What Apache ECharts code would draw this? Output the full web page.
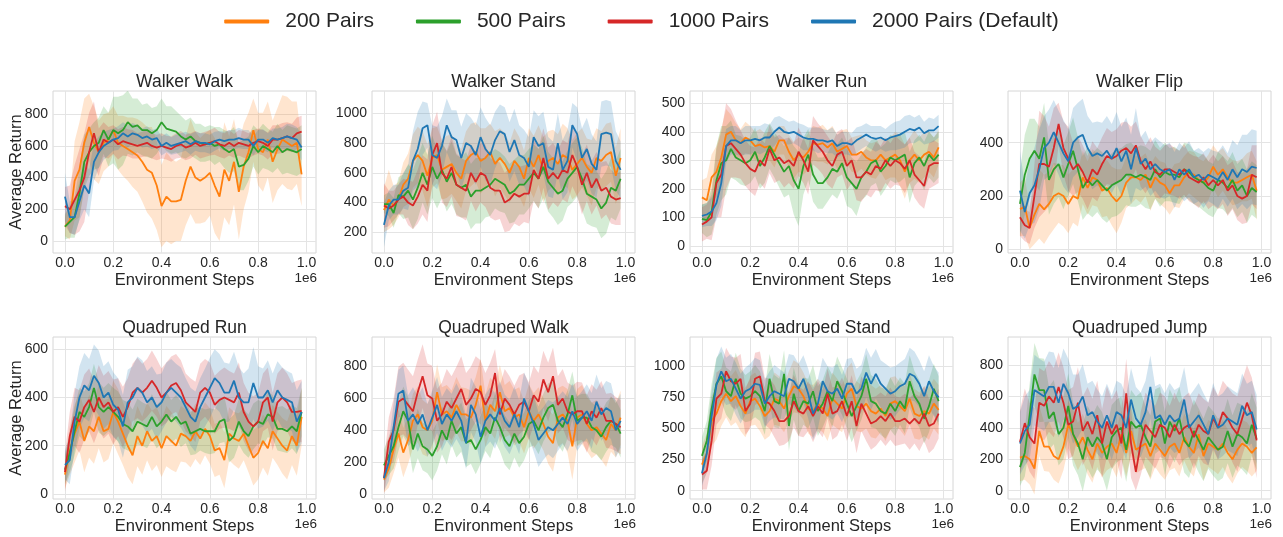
<!DOCTYPE html>
<html>
<head>
<meta charset="utf-8">
<script src="https://cdn.jsdelivr.net/npm/echarts@6/dist/echarts.min.js"></script>
<style>
  html, body { margin: 0; padding: 0; background: #ffffff; }
  #chart { width: 1283px; height: 537px; }
</style>
</head>
<body>
<div id="chart"></div>
<script>
// ---- Data: mean return and spread (std) every 20k environment steps ----
const seriesNames = ['200 Pairs', '500 Pairs', '1000 Pairs', '2000 Pairs (Default)'];
const panelTitles = ['Walker Walk', 'Walker Stand', 'Walker Run', 'Walker Flip',
                     'Quadruped Run', 'Quadruped Walk', 'Quadruped Stand', 'Quadruped Jump'];
const steps = Array.from({ length: 50 }, (_, i) => i * 20000);
const xTickValues = [0, 200000, 400000, 600000, 800000, 1000000];

// Walker Walk
const walkerWalkTicks = [0, 200, 400, 600, 800];
const walkerWalk200 = [90,130,380,450,620,720,620,560,620,640, 700,620,600,580,560,540,500,450,430,350, 220,280,250,250,260,380,470,400,380,400, 430,350,280,450,380,500,310,470,560,700, 580,560,640,500,580,640,620,600,620,420];
const walkerWalk200Std = [60,120,250,300,280,210,230,200,180,170, 150,170,190,200,220,230,250,270,290,280, 260,280,270,250,260,280,300,290,270,280, 270,300,280,300,280,270,300,270,250,200, 230,250,240,260,260,280,290,280,260,200];
const walkerWalk500 = [90,120,150,300,500,560,600,620,700,640, 700,680,700,750,720,730,700,700,680,700, 750,710,700,690,660,640,660,630,620,610, 620,600,610,580,560,580,470,480,520,600, 560,600,580,560,600,560,580,570,560,580];
const walkerWalk500Std = [80,100,130,160,170,150,150,160,150,170, 210,230,220,200,180,170,160,170,160,150, 150,140,150,130,130,120,120,110,120,110, 110,120,110,120,130,140,150,160,140,130, 140,140,130,130,140,140,150,150,150,150];
const walkerWalk1000 = [220,200,260,320,400,560,680,560,640,620, 640,610,630,620,610,600,610,620,600,590, 600,590,580,600,610,590,600,620,600,610, 620,630,610,600,620,600,620,610,600,620, 630,620,600,640,640,650,660,650,680,690];
const walkerWalk1000Std = [120,150,220,260,280,250,200,150,110,100, 90,95,90,85,90,80,80,85,80,80, 80,75,80,80,85,80,80,75,80,80, 80,85,80,80,80,75,80,85,80,80, 80,80,85,90,90,95,90,90,100,100];
const walkerWalk2000 = [280,150,150,250,350,300,500,560,600,620, 640,650,680,660,680,670,650,660,640,650, 600,620,600,610,620,630,610,630,620,620, 610,630,640,630,640,640,650,640,640,600, 640,640,620,650,640,650,660,650,640,590];
const walkerWalk2000Std = [150,100,110,120,150,150,120,100,90,80, 70,75,70,70,65,60,60,65,60,60, 60,60,55,60,60,60,65,60,60,60, 60,60,55,60,60,60,65,60,60,60, 60,65,60,60,70,70,80,85,80,80];

// Walker Stand
const walkerStandTicks = [200, 400, 600, 800, 1000];
const walkerStand200 = [350,420,380,420,520,560,680,720,680,580, 700,720,620,640,660,600,560,680,720,740, 680,700,740,660,700,660,600,680,640,560, 700,640,720,620,680,700,660,720,700,620, 660,700,640,600,700,680,720,740,580,700];
const walkerStand200Std = [150,200,130,120,150,170,180,190,200,210, 200,190,200,210,200,190,200,200,210,200, 220,200,190,220,200,210,200,220,200,190, 200,210,200,220,200,190,200,210,200,200, 210,200,190,220,200,200,210,200,190,200];
const walkerStand500 = [390,390,330,450,440,480,420,500,600,520, 640,560,620,540,600,520,500,520,440,480, 480,500,520,560,540,520,460,480,520,520, 560,600,560,640,540,500,460,480,560,600, 640,560,460,440,420,360,400,500,480,560];
const walkerStand500Std = [60,80,100,120,150,180,200,210,200,200, 210,200,190,200,210,200,200,220,220,220, 220,200,210,200,200,190,200,210,200,200, 200,190,200,210,200,200,210,200,190,200, 200,210,200,200,190,200,210,200,200,200];
const walkerStand1000 = [380,360,380,420,440,400,380,440,520,480, 720,800,600,560,640,520,500,480,600,540, 600,580,500,480,480,400,420,460,440,460, 460,620,560,700,560,600,560,620,600,720, 640,520,600,500,560,480,500,440,420,430];
const walkerStand1000Std = [150,120,100,100,120,150,160,180,200,210, 200,210,200,190,200,210,200,200,190,200, 200,210,200,200,190,200,210,200,200,190, 200,210,200,200,210,200,190,200,200,210, 200,200,190,180,180,190,180,180,170,180];
const walkerStand2000 = [250,380,420,420,480,500,680,760,900,920, 720,700,780,920,840,820,700,800,780,720, 840,760,720,820,880,860,740,820,720,700, 640,840,780,800,640,620,800,620,680,920, 860,700,760,660,620,860,870,860,680,620];
const walkerStand2000Std = [150,100,100,100,120,150,200,250,180,150, 200,210,200,180,180,200,210,200,190,200, 200,210,200,190,180,180,200,210,200,190, 200,180,200,210,200,190,200,200,210,150, 180,200,210,200,190,220,220,220,200,190];

// Walker Run
const walkerRunTicks = [0, 100, 200, 300, 400, 500];
const walkerRun200 = [170,160,240,260,310,390,400,370,360,380, 370,350,355,345,350,330,370,370,330,300, 320,310,330,360,355,360,345,360,330,340, 350,320,320,330,310,300,300,320,300,310, 320,300,260,300,320,300,320,330,310,345];
const walkerRun200Std = [60,80,80,90,100,90,60,60,50,55, 50,50,55,50,50,55,50,50,60,65, 60,60,65,60,60,65,60,60,60,65, 60,60,65,60,60,60,65,60,70,70, 80,90,95,80,85,80,80,70,70,60];
const walkerRun500 = [95,90,120,230,290,300,340,310,300,290, 300,330,280,310,350,320,290,260,280,230, 200,280,320,250,220,220,240,270,260,290, 240,220,200,240,260,290,300,260,280,310, 300,310,320,240,290,310,280,320,300,320];
const walkerRun500Std = [50,60,80,120,130,120,100,80,85,80, 80,85,80,90,80,80,85,90,100,120, 130,100,90,95,90,90,85,90,95,90, 100,90,95,80,85,80,80,85,80,80, 80,85,80,90,80,80,85,80,80,80];
const walkerRun1000 = [75,85,100,220,250,350,360,340,320,290, 270,260,300,280,340,300,310,290,300,280, 330,300,260,370,350,330,300,280,320,330, 280,300,240,240,260,250,280,270,300,280, 300,290,270,300,250,230,210,280,290,290];
const walkerRun1000Std = [60,60,80,120,150,150,120,100,85,80, 80,85,80,80,85,80,80,85,80,80, 85,80,80,85,80,80,85,80,80,80, 85,80,80,85,80,80,85,80,80,80, 85,80,85,80,80,85,80,80,80,70];
const walkerRun2000 = [105,110,120,150,220,350,370,370,360,370, 370,375,370,380,380,400,415,400,395,400, 390,380,375,375,370,370,365,370,350,360, 360,355,370,380,390,380,375,380,370,380, 385,390,400,410,405,415,395,405,405,420];
const walkerRun2000Std = [40,40,50,60,80,60,50,50,45,50, 50,45,50,50,45,50,40,45,40,40, 40,45,40,40,45,40,40,45,40,40, 40,40,45,40,40,40,45,40,40,45, 50,50,55,50,45,45,40,45,40,40];

// Walker Flip
const walkerFlipTicks = [0, 200, 400];
const walkerFlip200 = [150,160,80,130,170,150,170,200,210,200, 170,200,190,270,230,270,260,220,230,200, 180,200,250,270,270,260,280,230,270,250, 240,210,240,240,270,290,280,260,250,270, 310,280,300,270,250,250,260,270,280,220];
const walkerFlip200Std = [100,110,80,110,130,130,120,125,110,115, 110,100,105,100,100,105,100,100,105,110, 120,100,95,100,80,85,80,85,80,80, 85,80,80,85,80,80,85,80,80,85, 80,85,80,80,85,80,80,90,90,110];
const walkerFlip500 = [170,280,340,370,340,420,260,300,320,270, 320,370,300,230,260,240,260,240,220,240, 250,260,280,280,270,280,270,260,300,270, 290,280,280,270,300,290,270,260,250,230, 220,260,250,230,260,220,240,200,230,215];
const walkerFlip500Std = [120,150,150,120,120,130,130,130,125,120, 120,125,120,120,125,120,120,125,120,120, 125,120,115,120,110,110,115,110,110,110, 110,100,105,100,100,105,100,100,105,100, 100,105,100,100,105,100,100,100,100,100];
const walkerFlip1000 = [120,90,80,200,320,320,310,380,470,380, 340,300,320,290,250,300,280,320,350,340, 350,370,380,360,390,330,300,330,290,280, 300,300,290,280,300,270,260,250,270,240, 260,240,260,220,240,200,190,200,280,270];
const walkerFlip1000Std = [70,60,60,120,200,180,150,150,80,100, 120,100,105,100,100,105,100,100,105,100, 100,105,100,100,90,95,90,90,95,90, 90,95,90,90,95,90,90,95,90,90, 95,90,90,95,90,90,95,100,110,120];
const walkerFlip2000 = [220,140,210,240,300,380,400,440,400,360, 330,400,420,430,380,350,360,350,370,340, 380,330,370,300,380,320,340,300,320,300, 290,300,260,300,280,300,270,280,260,280, 270,260,290,260,300,270,300,290,310,305];
const walkerFlip2000Std = [150,100,120,140,150,120,125,120,120,125, 120,130,130,135,120,125,120,125,130,130, 135,130,125,130,150,100,105,100,100,105, 100,100,105,100,100,105,100,100,105,100, 100,105,100,100,110,120,130,140,140,140];

// Quadruped Run
const quadrupedRunTicks = [0, 200, 400, 600];
const quadrupedRun200 = [80,180,250,300,220,280,260,320,260,270, 340,300,250,200,160,240,200,260,220,240, 190,240,220,200,250,240,220,260,230,270, 240,180,190,140,250,230,220,250,200,150, 170,220,190,260,230,200,180,240,200,320];
const quadrupedRun200Std = [60,100,120,120,130,130,135,130,130,125, 130,135,130,130,120,125,120,120,125,120, 120,125,120,110,115,110,110,115,110,110, 115,110,110,115,110,110,115,110,110,115, 110,110,115,110,110,115,120,120,125,120];
const quadrupedRun500 = [100,170,260,340,320,360,440,360,340,360, 340,320,290,280,260,300,290,280,320,280, 300,330,300,320,290,300,250,260,270,260, 260,260,300,310,220,240,300,260,240,280, 300,290,330,320,270,270,260,280,260,340];
const quadrupedRun500Std = [60,80,100,100,105,100,100,105,100,100, 100,105,100,100,90,95,90,90,95,90, 90,95,90,90,95,90,90,95,90,90, 95,90,90,95,90,90,95,90,90,95, 90,90,95,90,90,95,90,90,95,100];
const quadrupedRun1000 = [90,240,320,300,360,390,340,400,360,380, 340,360,320,360,420,440,420,440,470,440, 400,420,450,460,430,380,360,340,420,440, 420,370,390,400,390,380,420,340,300,280, 300,380,400,300,380,400,380,340,340,345];
const quadrupedRun1000Std = [80,100,120,130,135,130,130,135,130,130, 135,120,125,120,120,125,120,120,125,120, 120,125,120,120,125,120,120,125,120,120, 125,120,120,125,120,120,125,120,120,125, 120,120,125,120,120,125,120,120,130,130];
const quadrupedRun2000 = [120,140,300,400,450,430,490,460,400,420, 370,350,280,380,400,440,420,380,400,360, 380,420,440,420,400,360,320,300,360,400, 440,480,460,420,420,470,400,380,380,460, 400,400,430,380,430,400,390,380,300,340];
const quadrupedRun2000Std = [60,100,120,130,135,130,130,135,130,130, 135,130,130,135,130,130,135,130,130,135, 120,125,120,120,125,120,120,125,120,120, 125,120,120,125,120,120,125,120,140,150, 130,120,125,120,120,125,120,120,130,130];

// Quadruped Walk
const quadrupedWalkTicks = [0, 200, 400, 600, 800];
const quadrupedWalk200 = [90,160,280,380,260,340,460,500,420,400, 460,640,500,520,480,560,500,500,480,560, 680,460,560,520,640,520,540,480,500,420, 520,460,500,440,360,320,480,500,460,300, 480,500,440,400,420,380,340,440,400,480];
const quadrupedWalk200Std = [80,120,150,150,155,150,170,175,170,165, 170,175,170,165,170,175,170,165,170,175, 170,165,170,175,170,165,170,175,170,165, 170,175,170,165,170,180,185,180,200,210, 180,185,170,175,170,165,170,175,170,170];
const quadrupedWalk500 = [180,240,300,420,520,460,280,380,300,280, 240,300,400,340,460,380,420,320,340,280, 340,420,380,480,420,340,300,380,320,360, 440,460,400,480,540,560,460,420,500,620, 460,480,480,420,400,360,420,460,440,380];
const quadrupedWalk500Std = [100,120,140,150,155,150,150,155,150,150, 155,150,150,155,150,150,155,150,150,155, 150,150,155,150,150,155,150,150,155,150, 150,155,150,150,155,150,150,155,150,150, 155,150,150,155,150,150,155,150,150,150];
const quadrupedWalk1000 = [100,330,400,580,600,560,520,640,740,620, 600,460,500,580,540,600,660,560,600,660, 640,560,620,760,500,600,560,500,560,580, 520,620,580,720,640,740,560,600,520,500, 520,520,440,520,480,540,460,460,440,420];
const quadrupedWalk1000Std = [100,150,200,220,225,220,220,205,200,200, 205,200,200,205,200,200,205,200,200,205, 200,200,205,150,180,185,180,180,185,180, 180,185,180,180,185,180,180,185,180,180, 185,180,180,170,175,170,170,175,170,170];
const quadrupedWalk2000 = [100,200,420,630,650,460,500,440,500,400, 480,560,440,500,460,520,460,320,560,500, 360,460,500,460,540,460,420,500,420,600, 520,440,340,380,420,400,440,480,440,520, 440,480,520,460,580,500,540,520,400,460];
const quadrupedWalk2000Std = [80,120,150,150,155,160,170,175,170,165, 170,175,170,165,170,175,170,165,170,175, 170,165,170,175,170,165,170,175,170,165, 170,175,170,165,170,175,170,165,170,175, 170,165,170,175,170,165,170,175,170,170];

// Quadruped Stand
const quadrupedStandTicks = [0, 250, 500, 750, 1000];
const quadrupedStand200 = [210,300,560,620,720,780,720,760,680,620, 720,740,680,600,640,740,720,660,760,840, 820,760,660,640,700,660,600,740,700,660, 780,820,680,660,700,640,620,660,600,700, 720,680,640,740,620,600,640,620,700,650];
const quadrupedStand200Std = [150,160,200,210,200,190,200,210,200,190, 200,210,200,190,200,210,200,190,200,210, 200,190,200,210,200,190,200,210,200,190, 200,210,200,190,200,210,200,190,200,210, 200,190,200,210,200,190,200,210,200,200];
const quadrupedStand500 = [280,400,660,860,920,800,760,900,780,740, 760,800,760,640,900,720,700,940,520,780, 640,720,700,800,640,700,800,720,880,800, 700,600,680,760,900,720,700,640,620,700, 640,720,660,880,760,700,580,680,820,720];
const quadrupedStand500Std = [150,160,200,210,200,190,200,210,200,190, 200,210,200,190,200,210,200,190,200,210, 200,190,200,210,200,190,200,210,200,190, 200,210,200,190,200,210,200,190,200,210, 200,190,200,210,200,190,200,210,200,200];
const quadrupedStand1000 = [130,160,400,740,780,960,880,860,900,640, 700,900,920,720,700,640,560,560,600,720, 640,620,680,600,680,620,780,620,640,720, 600,720,520,700,620,540,560,600,560,620, 560,560,580,540,580,540,620,520,540,620];
const quadrupedStand1000Std = [120,150,200,210,200,190,200,210,200,190, 200,210,200,190,200,210,200,190,200,210, 200,190,200,210,200,190,200,210,200,190, 200,210,220,220,220,210,200,190,200,210, 200,190,200,210,200,220,220,220,200,200];
const quadrupedStand2000 = [140,300,600,850,960,880,900,820,740,800, 820,860,850,700,760,800,780,760,900,880, 820,900,780,620,700,880,800,780,820,740, 860,860,780,820,950,860,940,860,820,780, 800,840,860,940,920,860,760,880,800,750];
const quadrupedStand2000Std = [100,150,200,210,200,190,200,210,200,190, 200,210,200,190,200,210,200,190,200,210, 200,190,200,210,200,190,200,210,200,190, 200,210,200,190,200,210,200,190,200,210, 200,190,200,210,200,190,200,210,200,200];

// Quadruped Jump
const quadrupedJumpTicks = [0, 200, 400, 600, 800];
const quadrupedJump200 = [210,220,200,140,380,280,280,220,200,280, 420,360,280,340,260,200,300,240,280,300, 240,360,240,380,260,280,300,220,300,260, 220,280,300,240,340,280,240,360,220,300, 280,260,300,240,200,260,300,280,240,275];
const quadrupedJump200Std = [150,150,160,165,160,155,160,150,155,150, 150,155,150,150,155,150,150,155,150,150, 155,150,150,155,150,150,155,150,150,155, 150,150,155,150,150,155,150,150,155,150, 150,155,150,150,155,150,150,155,150,150];
const quadrupedJump500 = [150,240,480,740,640,640,460,500,360,400, 540,360,300,200,340,280,340,300,200,340, 380,400,260,440,400,420,340,280,440,460, 300,440,380,460,320,280,380,320,260,340, 300,260,280,380,280,360,340,300,420,330];
const quadrupedJump500Std = [120,150,200,200,205,200,200,205,200,200, 205,200,200,205,200,200,205,200,200,205, 200,200,205,200,200,205,200,200,205,200, 200,205,200,200,205,200,200,205,200,200, 205,200,200,205,200,200,205,200,200,200];
const quadrupedJump1000 = [310,430,340,300,560,540,600,560,660,560, 420,440,560,380,440,360,480,300,440,360, 420,300,620,300,120,300,420,380,340,420, 400,340,420,360,400,420,340,420,380,360, 460,400,500,460,400,360,460,560,480,320];
const quadrupedJump1000Std = [200,220,220,225,220,220,225,220,220,225, 220,220,225,220,220,225,220,220,225,220, 220,225,220,220,120,200,205,200,200,205, 200,200,205,200,200,205,200,200,205,200, 200,205,200,200,220,240,240,240,240,240];
const quadrupedJump2000 = [300,380,420,640,620,600,660,660,560,680, 620,520,540,600,480,500,440,400,480,400, 500,480,400,580,460,420,500,660,460,480, 420,480,440,460,580,400,440,480,420,360, 480,400,420,460,440,420,540,480,500,390];
const quadrupedJump2000Std = [200,220,220,225,220,220,225,220,220,225, 220,220,200,205,200,200,205,200,200,205, 200,200,205,200,200,205,200,200,205,200, 200,205,200,200,205,200,200,205,200,200, 205,200,200,205,200,200,205,200,200,220];

// ---- Panels assembled from the arrays above ----
const panels = [
  { ticks: walkerWalkTicks, range: [-76, 947], runs: [[walkerWalk200, walkerWalk200Std], [walkerWalk500, walkerWalk500Std], [walkerWalk1000, walkerWalk1000Std], [walkerWalk2000, walkerWalk2000Std]] },
  { ticks: walkerStandTicks, range: [61, 1150], runs: [[walkerStand200, walkerStand200Std], [walkerStand500, walkerStand500Std], [walkerStand1000, walkerStand1000Std], [walkerStand2000, walkerStand2000Std]] },
  { ticks: walkerRunTicks, range: [-25, 543], runs: [[walkerRun200, walkerRun200Std], [walkerRun500, walkerRun500Std], [walkerRun1000, walkerRun1000Std], [walkerRun2000, walkerRun2000Std]] },
  { ticks: walkerFlipTicks, range: [-14, 594], runs: [[walkerFlip200, walkerFlip200Std], [walkerFlip500, walkerFlip500Std], [walkerFlip1000, walkerFlip1000Std], [walkerFlip2000, walkerFlip2000Std]] },
  { ticks: quadrupedRunTicks, range: [-21, 651], runs: [[quadrupedRun200, quadrupedRun200Std], [quadrupedRun500, quadrupedRun500Std], [quadrupedRun1000, quadrupedRun1000Std], [quadrupedRun2000, quadrupedRun2000Std]] },
  { ticks: quadrupedWalkTicks, range: [-31, 986], runs: [[quadrupedWalk200, quadrupedWalk200Std], [quadrupedWalk500, quadrupedWalk500Std], [quadrupedWalk1000, quadrupedWalk1000Std], [quadrupedWalk2000, quadrupedWalk2000Std]] },
  { ticks: quadrupedStandTicks, range: [-67, 1236], runs: [[quadrupedStand200, quadrupedStand200Std], [quadrupedStand500, quadrupedStand500Std], [quadrupedStand1000, quadrupedStand1000Std], [quadrupedStand2000, quadrupedStand2000Std]] },
  { ticks: quadrupedJumpTicks, range: [-53, 978], runs: [[quadrupedJump200, quadrupedJump200Std], [quadrupedJump500, quadrupedJump500Std], [quadrupedJump1000, quadrupedJump1000Std], [quadrupedJump2000, quadrupedJump2000Std]] }
];

// ---- Styling / layout ----
const colors = ['#ff7f0e', '#2ca02c', '#d62728', '#1f77b4'];
const FONT = '"Liberation Sans", Arial, Helvetica, sans-serif';
const TEXT = '#262626';
const colLeft = [53, 372, 690, 1008];
const rowTop = [91, 337];
const PW = 263, PH = 162;
const X_MIN = -49500, X_MAX = 1039500;

const grids = [], xAxes = [], yAxes = [], series = [], graphics = [];

panels.forEach((p, gi) => {
  const col = gi % 4, row = Math.floor(gi / 4);
  const left = colLeft[col], top = rowTop[row];
  grids.push({
    left: left, top: top, width: PW, height: PH,
    show: true, borderColor: '#d6d6d6', borderWidth: 1, backgroundColor: '#ffffff'
  });
  xAxes.push({
    gridIndex: gi, type: 'value', min: X_MIN, max: X_MAX,
    axisLine: { show: false },
    axisTick: { show: false, customValues: xTickValues },
    axisLabel: { customValues: xTickValues, formatter: v => (v / 1e6).toFixed(1),
                 fontSize: 14, color: TEXT, fontFamily: FONT, margin: 3 },
    splitLine: { show: true, lineStyle: { color: '#e4e4e4', width: 1 } },
    name: 'Environment Steps', nameLocation: 'middle', nameGap: 19, nameMoveOverlap: false,
    nameTextStyle: { fontSize: 16.5, color: TEXT, fontFamily: FONT }
  });
  yAxes.push({
    gridIndex: gi, type: 'value', min: p.range[0], max: p.range[1],
    axisLine: { show: false },
    axisTick: { show: false, customValues: p.ticks },
    axisLabel: { customValues: p.ticks, formatter: v => String(v),
                 fontSize: 14, color: TEXT, fontFamily: FONT, margin: 5 },
    splitLine: { show: true, lineStyle: { color: '#e4e4e4', width: 1 } },
    name: col === 0 ? 'Average Return' : '', nameLocation: 'middle', nameGap: 28, nameMoveOverlap: false,
    nameTextStyle: { fontSize: 16.5, color: TEXT, fontFamily: FONT }
  });

  p.runs.forEach(([mean, spread], k) => {
    // shaded band: mean ± spread
    series.push({
      type: 'custom', xAxisIndex: gi, yAxisIndex: gi, silent: true, animation: false,
      data: steps.map((x, i) => [x, mean[i] - spread[i], mean[i] + spread[i]]),
      encode: { x: 0, y: [1, 2] },
      renderItem: (params, api) => {
        if (params.dataIndex !== 0) return null;
        const upper = steps.map((x, i) => api.coord([x, mean[i] + spread[i]]));
        const lower = steps.map((x, i) => api.coord([x, mean[i] - spread[i]])).reverse();
        const cs = params.coordSys;
        return {
          type: 'polygon',
          shape: { points: upper.concat(lower) },
          style: { fill: colors[k], opacity: 0.2 },
          clipPath: { type: 'rect', shape: { x: cs.x, y: cs.y, width: cs.width, height: cs.height } }
        };
      }
    });
    // mean curve
    series.push({
      type: 'line', name: seriesNames[k], xAxisIndex: gi, yAxisIndex: gi,
      data: steps.map((x, i) => [x, mean[i]]),
      showSymbol: false, symbol: 'none', silent: true, animation: false,
      lineStyle: { width: 1.8, color: colors[k] }, itemStyle: { color: colors[k] }
    });
  });

  // panel title
  graphics.push({
    type: 'text', x: left + PW / 2, y: top - 8.5,
    style: { text: panelTitles[gi], fontSize: 17.5, fontFamily: FONT, fill: TEXT,
             align: 'center', verticalAlign: 'middle', textAlign: 'center', textVerticalAlign: 'middle' }
  });
  // x-axis offset (scientific multiplier)
  graphics.push({
    type: 'text', x: left + PW + 1, y: top + PH + 25,
    style: { text: '1e6', fontSize: 13.5, fontFamily: FONT, fill: TEXT,
             align: 'right', verticalAlign: 'middle', textAlign: 'right', textVerticalAlign: 'middle' }
  });
});

const chart = echarts.init(document.getElementById('chart'), null, { renderer: 'canvas' });
chart.setOption({
  animation: false,
  backgroundColor: '#ffffff',
  textStyle: { fontFamily: FONT },
  color: colors,
  legend: {
    data: seriesNames, top: 6, left: 'center',
    icon: 'roundRect', itemWidth: 45, itemHeight: 4, itemGap: 42,
    textStyle: { fontSize: 21, color: TEXT, fontFamily: FONT, padding: [0, 0, 0, 11] }
  },
  grid: grids,
  xAxis: xAxes,
  yAxis: yAxes,
  series: series,
  graphic: graphics
});
</script>
</body>
</html>
